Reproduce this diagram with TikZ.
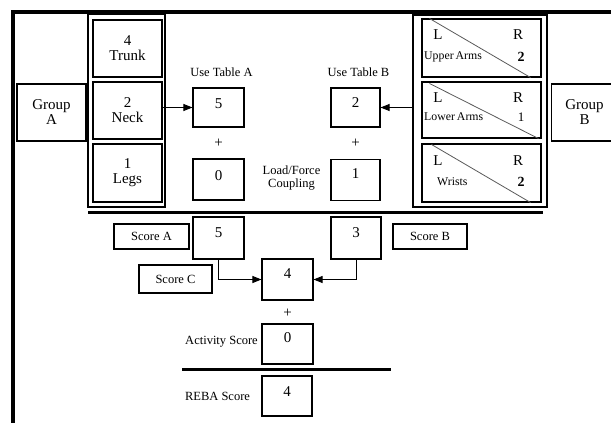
\documentclass[tikz,border=0pt]{standalone}
\usepackage{fontspec}
\setmainfont{Liberation Serif}
\usetikzlibrary{arrows.meta}
\begin{document}
\begin{tikzpicture}[x=1pt,y=-1pt,
  big/.style={font=\fontsize{15}{15}\selectfont},
  small/.style={font=\fontsize{12.5}{12.5}\selectfont},
  arms/.style={font=\fontsize{11.8}{12}\selectfont, anchor=west, inner sep=0pt},
  box/.style={draw, line width=1.1pt, inner sep=0pt, align=center},
  cont/.style={draw, line width=1.3pt, inner sep=0pt},
  numbox/.style={box, big, minimum width=51pt, text height=10pt, text depth=#1},
  lblbox/.style={box, small, minimum height=25pt},
  arr/.style={line width=0.9pt, -{Triangle[length=9pt,width=7pt]}},
  diag/.style={line width=0.8pt, black!65},
  thick sep/.style={line width=3pt}
]
\useasboundingbox (0,0) rectangle (611,423);
% frame
\coordinate (fbl) at (13,423);
\coordinate (ftl) at (13,12);
\coordinate (ftr) at (611,12);
\draw[line width=4pt] (fbl) -- (ftl) -- (ftr);

% Group A side
\node[box, big, minimum width=69pt, minimum height=57pt] (groupA) at (51.5,112.5) {Group\\A};
\node[cont, minimum width=77pt, minimum height=193pt] (lcont) at (126.5,110.5) {};
\node[box, big, minimum width=69pt, minimum height=57pt] (trunk) at (127.5,48.5) {4\\Trunk};
\node[box, big, minimum width=69pt, minimum height=57pt] (neck) at (127.5,110.5) {2\\Neck};
\node[box, big, minimum width=69pt, minimum height=58pt] (legs) at (127.5,173) {1\\Legs};

\node[small] (useA) at (221.5,72) {Use Table A};
\node[numbox=9pt, minimum height=39pt] (tA) at (218.5,107.5) {5};
\node[big] (plusA) at (218.5,143) {+};
\node[numbox=9pt, minimum height=41pt] (lA) at (218.5,179.5) {0};
\draw[arr] (neck.east |- tA.west) -- (tA.west);

% Group B side
\node[small] (useB) at (358.5,72) {Use Table B};
\node[numbox=11pt, minimum width=49pt, minimum height=39pt] (tB) at (355.5,107.5) {2};
\node[big] (plusB) at (355.5,143) {+};
\node[numbox=14pt, minimum width=49pt, minimum height=41pt] (lB) at (355.5,180) {1};
\node[small, align=center] (load) at (291.5,178) {Load/Force\\Coupling};

\node[cont, minimum width=134pt, minimum height=192pt] (rcont) at (480,111) {};
\node[box, minimum width=119pt, minimum height=58pt] (ua) at (481.5,48) {};
\node[box, minimum width=119pt, minimum height=56pt] (la) at (481.5,110) {};
\node[box, minimum width=119pt, minimum height=58pt] (wr) at (481.5,173) {};
\draw[diag] ([xshift=8pt]ua.north west) -- ([xshift=-11pt]ua.south east);
\draw[diag] ([xshift=8pt,yshift=-2pt]la.north west) -- ([xshift=-3pt]la.south east);
\draw[diag] ([xshift=10pt,yshift=-1pt]wr.north west) -- ([xshift=-11pt]wr.south east);

\node[big] (uaL) at (438,35) {L};
\node[big] (uaR) at (518,35) {R};
\node[arms] (uaT) at (424,57) {Upper\hspace{2pt}Arms};
\node[big, font=\fontsize{14}{14}\selectfont\bfseries] (uaN) at (521,57) {2};
\node[big] (laL) at (438,98) {L};
\node[big] (laR) at (518,98) {R};
\node[arms] (laT) at (424,117) {Lower\hspace{2pt}Arms};
\node[big, font=\fontsize{13}{13}\selectfont] (laN) at (521,117) {1};
\node[big] (wrL) at (438,161) {L};
\node[big] (wrR) at (518,161) {R};
\node[arms] (wrT) at (437,182) {Wrists};
\node[big, font=\fontsize{14}{14}\selectfont\bfseries] (wrN) at (521,182) {2};

\draw[arr] (rcont.west |- tB.east) -- (tB.east);

\node[box, big, minimum width=66pt, minimum height=57pt, anchor=west] (groupB) at (551,112.5) {Group\\B};

% separator
\coordinate (s1) at (88,212);
\coordinate (s2) at (543,212);
\draw[thick sep] (s1) -- (s2);

% bottom scores
\node[lblbox, minimum width=75pt] (scoreA) at (151.5,236.5) {Score A};
\node[numbox=12pt, minimum height=42pt] (sA) at (218.5,238) {5};
\node[numbox=12pt, minimum width=50pt, minimum height=42pt] (sB) at (356,238) {3};
\node[lblbox, minimum width=74pt] (scoreB) at (430,236.5) {Score B};
\node[lblbox, minimum width=73pt, minimum height=28pt] (scoreC) at (175.5,279) {Score C};
\node[numbox=13pt, minimum height=41pt] (sC) at (287.5,279.5) {4};
\draw[arr] (sA.south) |- (sC.west);
\draw[arr] (sB.south) |- (sC.east);

\node[big] (plusC) at (287.5,313) {+};
\node[numbox=14pt, minimum height=40pt] (act) at (287.5,344) {0};
\node[small] (actT) at (221.5,342) {Activity Score};
\coordinate (t1) at (182,369);
\coordinate (t2) at (391,369);
\draw[thick sep] (t1) -- (t2);
\node[numbox=10pt, minimum width=50pt, minimum height=40pt] (reba) at (287,396) {4};
\node[small] (rebaT) at (217.5,396) {REBA Score};
\end{tikzpicture}
\end{document}
